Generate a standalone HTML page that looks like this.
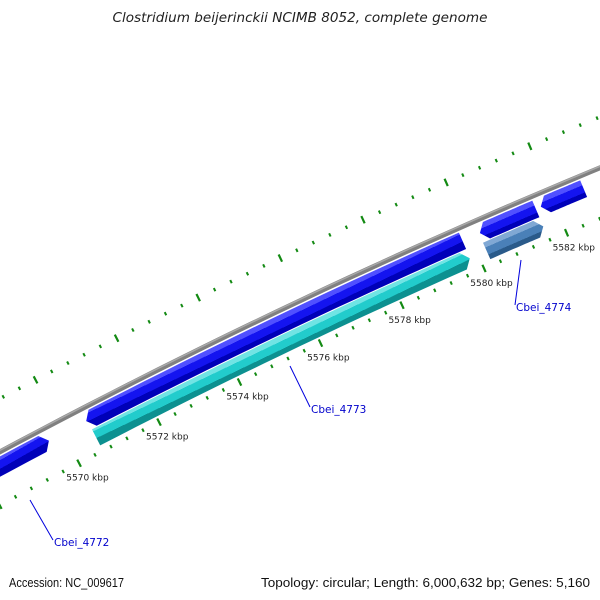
<!DOCTYPE html>
<html><head><meta charset="utf-8"><style>
html,body{margin:0;padding:0;background:#fff;overflow:hidden;width:600px;height:600px;}
svg{display:block;font-family:"DejaVu Sans","Liberation Sans",sans-serif;}
</style></head><body>
<svg id="map" width="600" height="600" viewBox="0 0 600 600" xmlns="http://www.w3.org/2000/svg" overflow="hidden">
<defs id="defs"></defs>
<rect width="600" height="600" fill="#fff"/>
<text x="300" y="22" text-anchor="middle" font-style="italic" font-size="13" fill="#222" textLength="375" lengthAdjust="spacingAndGlyphs">Clostridium beijerinckii NCIMB 8052, complete genome</text>
<g id="plot"></g>
<text x="9" y="587" font-size="13" fill="#111" font-family="Liberation Sans, sans-serif" textLength="115" lengthAdjust="spacingAndGlyphs">Accession: NC_009617</text>
<text x="590" y="587" text-anchor="end" font-size="13" fill="#111" font-family="Liberation Sans, sans-serif" textLength="329" lengthAdjust="spacingAndGlyphs">Topology: circular; Length: 6,000,632 bp; Genes: 5,160</text>
</svg>
<script>
// data (kbp)
const majorTicks = [5566, 5568, 5570, 5572, 5574, 5576, 5578, 5580, 5582, 5584, 5586];
const tickLabels = ["5570 kbp","5572 kbp","5574 kbp","5576 kbp","5578 kbp","5580 kbp","5582 kbp"];
const labelTicks = [5570, 5572, 5574, 5576, 5578, 5580, 5582];
const featureNames = ["gene-left", "Cbei_4773-forward", "Cbei_4773", "Cbei_4774", "gene-4774-forward", "gene-right"];
const featureStart = [5560.0, 5570.57, 5570.60, 5580.21, 5580.23, 5581.70];
const featureEnd   = [5569.64, 5579.81, 5579.80, 5581.58, 5581.58, 5582.73];
const featureRing  = ["outer", "outer", "inner", "inner", "outer", "outer"];
const featureArrow = ["end", "start", "end", "end", "start", "start"];
const featureColor = ["blue", "blue", "cyan", "steel", "blue", "blue"];
const geneLabels = ["Cbei_4772", "Cbei_4773", "Cbei_4774"];
const geneLabelBp = [5569.0, 5575.3, 5580.9];

const NS = "http://www.w3.org/2000/svg";
const plot = document.getElementById('plot');
const defs = document.getElementById('defs');
const cx = 3195, cy = 6425, R = 6774;
const aRef1 = Math.atan2(463 - cy, 79 - cx), aRef2 = Math.atan2(342 - cy, 320 - cx);
const perKbp = (aRef2 - aRef1) / 6;
function ang(bp){ return aRef1 + (bp - 5570) * perKbp; }
function pt(bp, r){ const a = ang(bp); return [cx + r*Math.cos(a), cy + r*Math.sin(a)]; }
function mk(tag, attrs){ const e = document.createElementNS(NS, tag); for (const k in attrs) e.setAttribute(k, attrs[k]); return e; }
function arcPts(b0, b1, r, n){ const p=[]; for(let i=0;i<=n;i++){ p.push(pt(b0+(b1-b0)*i/n, r)); } return p; }

// backbone
(function(){
  const p = arcPts(5555, 5590, R, 60);
  const d = "M" + p.map(q => q[0].toFixed(1)+","+q[1].toFixed(1)).join(" L");
  const b = mk('path', {d: d, fill: 'none', stroke: '#808080', 'stroke-width': 5});
  
  
  plot.appendChild(b);
  const h = mk('path', {d: d, fill: 'none', stroke: '#a8a8a8', 'stroke-width': 1.5, transform: 'translate(-0.6,-1.2)'});
  
  
  plot.appendChild(h);
})();

// ticks
const innerR = R - 47, outerR = R + 47;
function tick(bp, r, len, w, name){
  const a = pt(bp, r - len/2), b = pt(bp, r + len/2);
  const l = mk('line', {x1:a[0], y1:a[1], x2:b[0], y2:b[1], stroke:'#138a13', 'stroke-width': w});
  
  
  plot.appendChild(l);
}
majorTicks.forEach(m => {
  tick(m, innerR, 8, 2.2, 'major-tick');
  tick(m, outerR, 8, 2.2, 'major-tick-outer');
  for (let k = 1; k < 5; k++) {
    tick(m + k*0.4, innerR, 3.5, 2, 'minor-tick');
    tick(m + k*0.4, outerR, 3.5, 2, 'minor-tick-outer');
  }
});
labelTicks.forEach((m, i) => {
  const p = pt(m, R - 63);
  const t = mk('text', {x: p[0] + 1, y: p[1] + 3, 'text-anchor': 'middle', 'font-size': 9, fill: '#222'});
  t.textContent = tickLabels[i];
  
  
  plot.appendChild(t);
});

// features
const palette = {
  blue: ['#5050ff', '#1414f0', '#0000b8'],
  cyan: ['#70e4e4', '#22cccc', '#0c9090'],
  steel: ['#80a8d4', '#4a80b8', '#2a5a8a']
};
featureStart.forEach((s, i) => {
  const e = featureEnd[i];
  const rc = featureRing[i] === 'outer' ? R - 13 : R - 32;
  const half = 9, aw = 0.16;
  let pts = [];
  const s2 = featureArrow[i] === 'start' ? s + aw : s;
  const e2 = featureArrow[i] === 'end' ? e - aw : e;
  pts = pts.concat(arcPts(s2, e2, rc + half, 20));
  if (featureArrow[i] === 'end') pts.push(pt(e, rc));
  pts = pts.concat(arcPts(e2, s2, rc - half, 20));
  if (featureArrow[i] === 'start') pts.push(pt(s, rc));
  const mid = (s + e) / 2;
  const g0 = pt(mid, rc + half), g1 = pt(mid, rc - half);
  const cols = palette[featureColor[i]];
  const gid = 'grad' + i;
  const grad = mk('linearGradient', {id: gid, gradientUnits: 'userSpaceOnUse', x1: g0[0], y1: g0[1], x2: g1[0], y2: g1[1]});
  [[0, cols[0]], [0.3, cols[0]], [0.3, cols[1]], [0.72, cols[1]], [0.72, cols[2]], [1, cols[2]]].forEach(st => {
    grad.appendChild(mk('stop', {offset: st[0], 'stop-color': st[1]}));
  });
  defs.appendChild(grad);
  const poly = mk('polygon', {points: pts.map(q => q[0].toFixed(1)+","+q[1].toFixed(1)).join(" "), fill: 'url(#' + gid + ')'});
  
  
  plot.appendChild(poly);
});

// gene labels with leader lines
const labelPos = [[54, 546], [311, 413], [516, 311]];
const leaderStart = [[30, 500], [290, 366], [521, 260]];
geneLabels.forEach((g, i) => {
  const l = mk('line', {x1: leaderStart[i][0], y1: leaderStart[i][1], x2: labelPos[i][0] - 1, y2: labelPos[i][1] - 6, stroke: '#0000dd', 'stroke-width': 1});
  
  
  plot.appendChild(l);
  const t = mk('text', {x: labelPos[i][0], y: labelPos[i][1], 'font-size': 10.5, fill: '#0000cc'});
  t.textContent = g;
  
  
  plot.appendChild(t);
});
</script>
</body></html>
